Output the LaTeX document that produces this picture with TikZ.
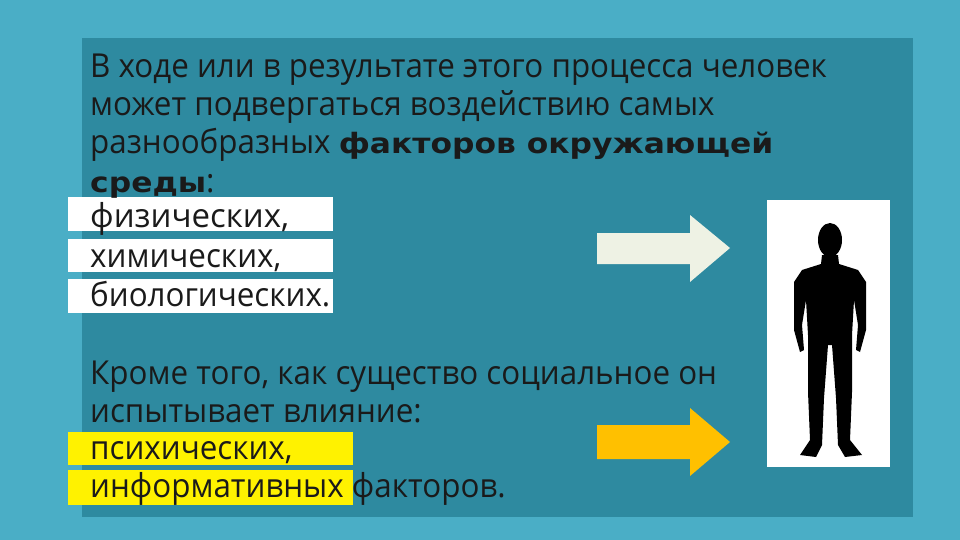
\documentclass[tikz,border=0pt]{standalone}
\usepackage{fontspec}
\setmainfont[FakeStretch=0.95]{Open Sans}
\newfontfamily\heavy[FakeStretch=1.12]{DejaVu Sans}
\definecolor{outerbg}{HTML}{4AAEC6}
\definecolor{panel}{HTML}{2E8AA0}
\definecolor{txt}{HTML}{1A1A1A}
\definecolor{lightarr}{HTML}{EEF2E4}
\definecolor{orangearr}{HTML}{FFC000}
\tikzset{ln/.style={anchor=base west,inner sep=0pt,font=\fontsize{33}{33}\selectfont,text=txt},
 hv/.style={}}
\newcommand{\hvy}[1]{{\heavy\bfseries\fontsize{28}{28}\selectfont #1}}
\begin{document}
\begin{tikzpicture}[x=1pt,y=-1pt]
\useasboundingbox (0,0) rectangle (960,540);
\fill[outerbg] (0,0) rectangle (960,540);
\fill[panel] (82,38) rectangle (913,517);
\fill[white] (68,197) rectangle (333,231);
\fill[white] (68,239) rectangle (333,272);
\fill[white] (68,279) rectangle (333,313);
\fill[yellow] (68,432) rectangle (353,465);
\fill[yellow] (68,470) rectangle (353,505);
\node[ln] (l1) at (90,78) {В ходе или в результате этого процесса человек};
\node[ln] (l2) at (90,116) {может подвергаться воздействию самых};
\node[ln] (l3) at (90,154) {разнообразных \hvy{факторов окружающей}};
\node[ln] (l4) at (90,192) {\hvy{среды}:};
\node[ln,font=\fontsize{33}{33}\selectfont\addfontfeature{FakeStretch=1.0}] (l5) at (90,227) {физических,};
\node[ln] (l6) at (90,267) {химических,};
\node[ln] (l7) at (90,306) {биологических.};
\node[ln] (l8) at (90,384) {Кроме того, как существо социальное он};
\node[ln] (l9) at (90,422) {испытывает влияние:};
\node[ln] (l10) at (90,459) {психических,};
\node[ln] (l11) at (90,497) {информативных факторов.};
\fill[lightarr] (597,233) -- (690,233) -- (690,215) -- (730,248) -- (690,282) -- (690,264) -- (597,264) -- cycle;
\fill[orangearr] (597,425) -- (690,425) -- (690,408) -- (730,442) -- (690,476) -- (690,459) -- (597,459) -- cycle;
\fill[white] (767,200) rectangle (890,467);
% silhouette
\fill[black] (830,240) ellipse (12 and 17);
\fill[black] (822,255) -- (838,255) -- (839,264) -- (858,270) -- (866,282) -- (866,330) -- (860,352) -- (856,350) -- (858,325) -- (854,300)
 -- (852,335) -- (852,392) -- (850,440) -- (862,455) -- (845,457) -- (838,445) -- (836,398) -- (832,345) -- (828,345) -- (824,398)
 -- (822,445) -- (816,457) -- (800,455) -- (810,440) -- (808,392) -- (808,335) -- (806,300) -- (802,325) -- (804,350) -- (800,352)
 -- (794,330) -- (794,282) -- (802,270) -- (821,264) -- cycle;
\end{tikzpicture}
\end{document}
